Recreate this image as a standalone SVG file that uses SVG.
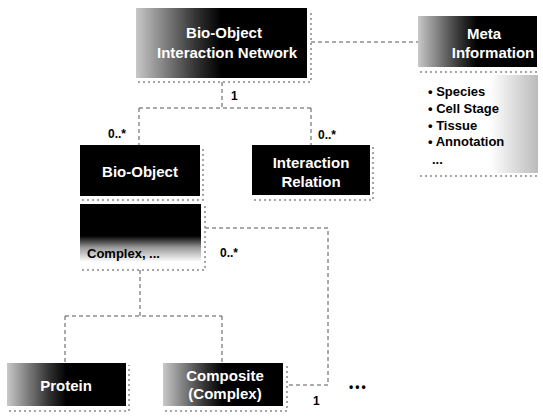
<svg xmlns="http://www.w3.org/2000/svg" width="543" height="417" viewBox="0 0 543 417">
<style>
.box{fill:#000}
.t{font-family:"Liberation Sans",Arial,sans-serif;font-weight:bold;fill:#fff;font-size:15px;text-anchor:middle}
.lbl{font-family:"Liberation Sans",Arial,sans-serif;font-weight:bold;fill:#000;font-size:12px}
.bl{font-family:"Liberation Sans",Arial,sans-serif;font-weight:bold;fill:#000;font-size:13px}
.con{fill:none;stroke:#555;stroke-width:1;stroke-dasharray:4 3}
.sh{fill:none;stroke:#888;stroke-width:1.5;stroke-dasharray:2 3}
</style>
<defs>
<linearGradient id="lg" x1="0" y1="0" x2="1" y2="0">
<stop offset="0" stop-color="#c8c8c8"/>
<stop offset="0.35" stop-color="#333"/>
<stop offset="0.5" stop-color="#000"/>
</linearGradient>
<linearGradient id="vg" x1="0" y1="0" x2="0" y2="1">
<stop offset="0" stop-color="#000"/>
<stop offset="0.55" stop-color="#000"/>
<stop offset="0.75" stop-color="#999"/>
<stop offset="1" stop-color="#fff"/>
</linearGradient>
<linearGradient id="mg" x1="0" y1="0" x2="1" y2="0">
<stop offset="0" stop-color="#fff"/>
<stop offset="0.6" stop-color="#fff"/>
<stop offset="1" stop-color="#bbb"/>
</linearGradient>
</defs>
<g id="connectors">
<path class="con" d="M311 42 H418"/>
<path class="con" d="M222 82 V108"/>
<path class="con" d="M139 108 H311"/>
<path class="con" d="M139 108 V145"/>
<path class="con" d="M311 108 V145"/>
<path class="con" d="M205 228 H328 V385 H288"/>
<path class="con" d="M140 270 V316"/>
<path class="con" d="M65 316 H222"/>
<path class="con" d="M65 316 V363"/>
<path class="con" d="M222 316 V363"/>
<text class="lbl" x="231" y="100">1</text>
<text class="lbl" x="108" y="138">0..*</text>
<text class="lbl" x="318" y="139">0..*</text>
<text class="lbl" x="220" y="257">0..*</text>
<text class="lbl" x="313" y="405">1</text>
<text class="lbl" x="349" y="391" letter-spacing="2">•••</text>
</g>
<g id="network">
<rect x="136" y="8" width="171" height="70" fill="url(#lg)"/>
<path class="sh" d="M138 82 H311 V10"/>
<text class="t" x="224" y="38">Bio-Object</text>
<text class="t" x="227" y="58">Interaction Network</text>
</g>
<g id="meta">
<rect x="418" y="16" width="119" height="51" fill="url(#lg)"/>
<path class="sh" d="M420 72 H539"/>
<text class="t" x="484" y="39">Meta</text>
<text class="t" x="493" y="58">Information</text>
<rect x="418" y="75" width="120" height="98" fill="url(#mg)"/>
<text class="bl" x="428" y="96">• Species</text>
<text class="bl" x="428" y="113">• Cell Stage</text>
<text class="bl" x="428" y="130">• Tissue</text>
<text class="bl" x="428" y="146">• Annotation</text>
<text class="bl" x="432" y="164">...</text>
<path class="sh" d="M420 176 H538"/>
</g>
<g id="bioobject">
<rect class="box" x="80" y="145" width="120" height="51"/>
<path class="sh" d="M82 200 H203 V147"/>
<text class="t" x="140" y="177">Bio-Object</text>
<rect x="80" y="204" width="121" height="58" fill="url(#vg)"/>
<text class="bl" x="87" y="258">Complex, ...</text>
<path class="sh" d="M82 270 H205 V206"/>
</g>
<g id="relation">
<rect class="box" x="252" y="145" width="118" height="50"/>
<path class="sh" d="M254 200 H373 V147"/>
<text class="t" x="311" y="168">Interaction</text>
<text class="t" x="311" y="187">Relation</text>
</g>
<g id="protein">
<rect x="7" y="363" width="119" height="43" fill="url(#lg)"/>
<path class="sh" d="M9 411 H129 V365"/>
<text class="t" x="66" y="391">Protein</text>
</g>
<g id="composite">
<rect x="163" y="363" width="120" height="43" fill="url(#lg)"/>
<path class="sh" d="M165 411 H287 V365"/>
<text class="t" x="225" y="381">Composite</text>
<text class="t" x="225" y="399">(Complex)</text>
</g>
</svg>
